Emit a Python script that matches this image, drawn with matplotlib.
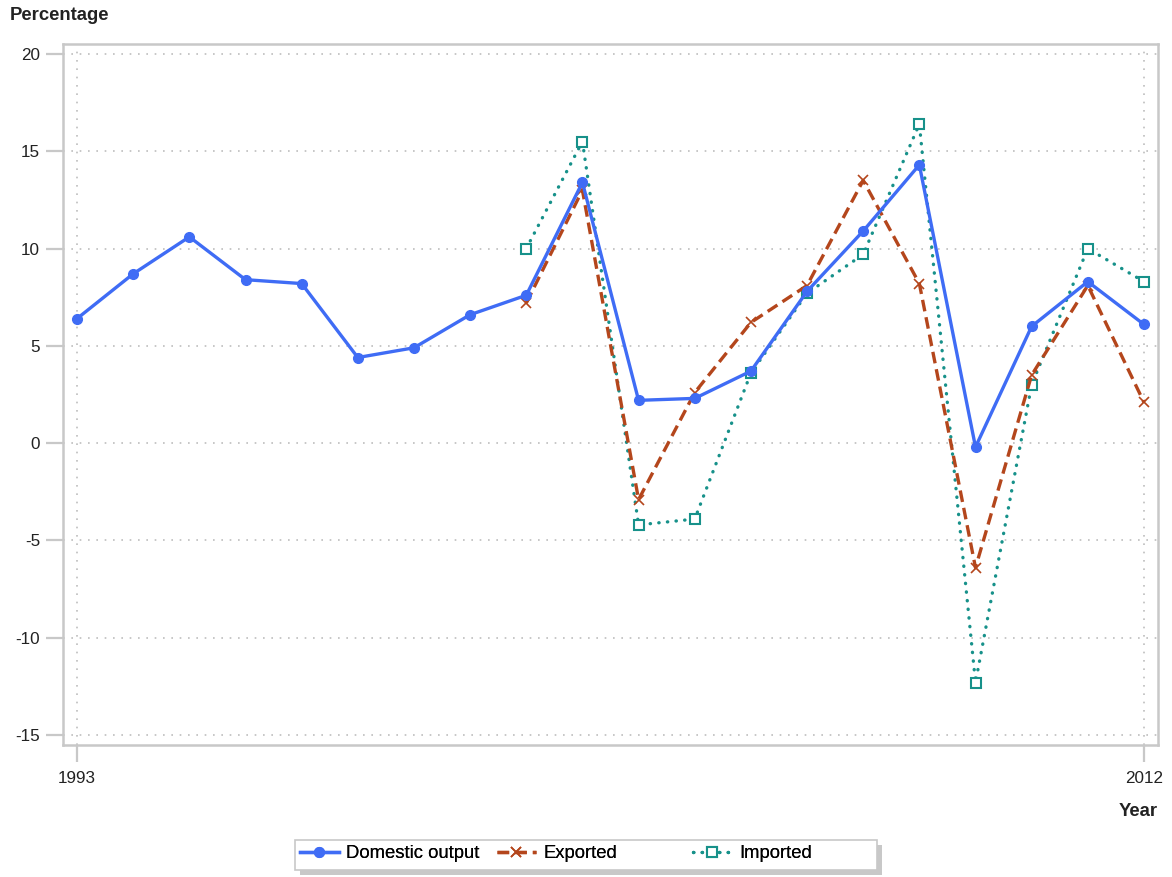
import numpy as np
import matplotlib
matplotlib.use("Agg")
import matplotlib.pyplot as plt
from matplotlib.patches import Rectangle

# ============================================================
# DATA
# ============================================================
years = list(range(1993, 2013))
domestic = [6.4, 8.7, 10.6, 8.4, 8.2, 4.4, 4.9, 6.6, 7.6, 13.4,
            2.2, 2.3, 3.7, 7.8, 10.9, 14.3, -0.2, 6.0, 8.3, 6.1]
trade_years = list(range(2001, 2013))
exported = [7.2, 13.0, -2.9, 2.6, 6.2, 8.1, 13.5, 8.2, -6.4, 3.5, 8.1, 2.1]
imported = [10.0, 15.5, -4.2, -3.9, 3.6, 7.7, 9.7, 16.4, -12.3, 3.0, 10.0, 8.3]
y_ticks = [20, 15, 10, 5, 0, -5, -10, -15]
x_ticks = [1993, 2012]

blue = '#3f6cf5'
brown = '#b4461c'
teal = '#17918a'
grey = '#c8c8c8'

plt.rcParams['font.family'] = ['Liberation Sans', 'DejaVu Sans']
plt.rcParams['axes.unicode_minus'] = False

W, H = 1172, 877
fig = plt.figure(figsize=(W / 100, H / 100), dpi=100)
ax = fig.add_axes([63 / W, 1 - 745 / H, (1158 - 63) / W, (745 - 44) / H])

# grid (dotted, only at ticks)
for yt in y_ticks:
  ax.axhline(yt, color='#bdbdbd', lw=1.2, ls=(0, (1, 4)), zorder=0)
for xt in x_ticks:
  ax.axvline(xt, color='#bdbdbd', lw=1.2, ls=(0, (1, 4)), zorder=0)

ax.plot(years, domestic, color=blue, lw=2.4, marker='o', ms=7,
        label='Domestic output', zorder=4)
ax.plot(trade_years, exported, color=brown, lw=2.4, ls=(0, (3.5, 1.8)),
        marker='x', ms=7.5, mew=1.2, label='Exported', zorder=3)
ax.plot(trade_years, imported, color=teal, lw=2.4, ls=(0, (0.1, 2.5)),
        dash_capstyle='round', marker='s', ms=6.5, mfc='white', mew=1.5,
        label='Imported', zorder=2)

ax.set_xlim(1992.75, 2012.25)
ax.set_ylim(-15.51, 20.51)
ax.set_xticks(x_ticks)
ax.set_yticks(y_ticks)
ax.tick_params(axis='both', colors=grey, labelcolor='#222222', labelsize=12.3,
               length=12.5, width=1.6, direction='out')
ax.tick_params(axis='y', pad=4)
ax.tick_params(axis='x', pad=6.5)
for s in ax.spines.values():
  s.set_color(grey)
  s.set_linewidth(1.8)

fig.text(10 / W, 1 - 16 / H, 'Percentage', fontsize=13.3, fontweight='bold',
         va='center', ha='left', color='#222222')
fig.text(1158 / W, 1 - 812 / H, 'Year', fontsize=13.3, fontweight='bold',
         va='center', ha='right', color='#222222')

# legend box with shadow
lx0, ly0, lw_, lh_ = 295, 840, 582, 30
fig.patches.append(Rectangle(((lx0 + 5) / W, 1 - (ly0 + lh_ + 5) / H),
                             lw_ / W, lh_ / H, transform=fig.transFigure,
                             facecolor='#c8c8c8', edgecolor='none', zorder=0))
fig.patches.append(Rectangle((lx0 / W, 1 - (ly0 + lh_) / H),
                             lw_ / W, lh_ / H, transform=fig.transFigure,
                             facecolor='white', edgecolor='#c8c8c8', lw=1.2, zorder=1))

# one legend per entry, fixed column starts like the original
handles, labels = ax.get_legend_handles_labels()
col_x = [300, 497, 693]
for h, l, cx in zip(handles, labels, col_x):
  leg = fig.legend([h], [l], loc='center left',
                   bbox_to_anchor=(cx / W, 1 - 854 / H), frameon=False,
                   fontsize=13.3, handlelength=2.1, handletextpad=0.4,
                   borderpad=0, borderaxespad=0)
  fig.add_artist(leg)

fig.savefig('out.png', dpi=100)
